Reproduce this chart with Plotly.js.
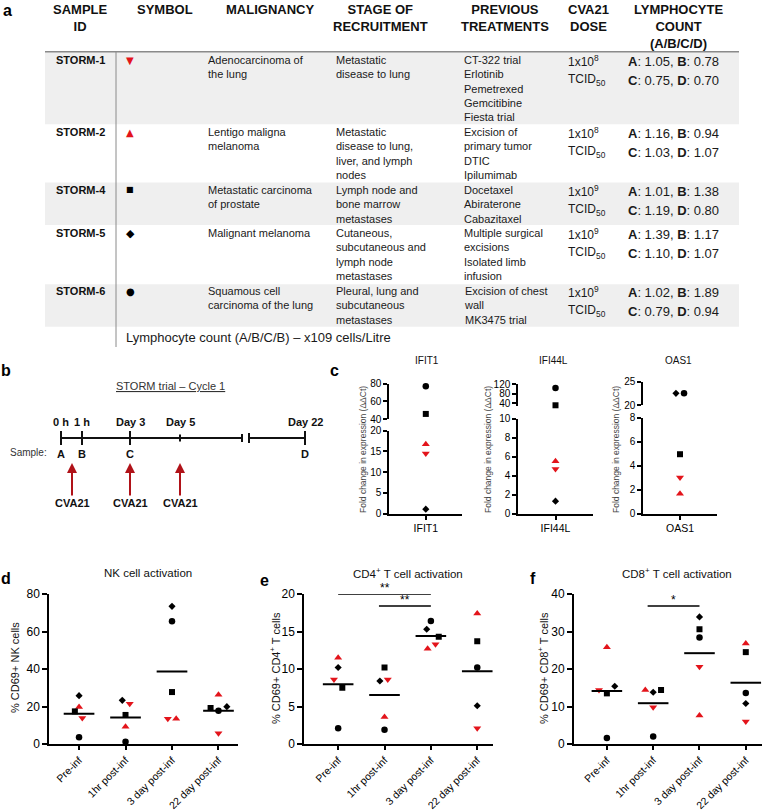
<!DOCTYPE html>
<html><head><meta charset="utf-8">
<script src="https://cdn.plot.ly/plotly-3.0.1.min.js"></script>
<style>html,body{margin:0;padding:0;background:#fff}#chart{width:778px;height:810px}</style>
</head><body><div id="chart"></div>
<script>
// ================= DATA =================
const patients = ['STORM-1','STORM-2','STORM-4','STORM-5','STORM-6'];
const tableHeaders = ['SAMPLE<br>ID','SYMBOL','MALIGNANCY','STAGE OF<br>RECRUITMENT','PREVIOUS<br>TREATMENTS','CVA21<br>DOSE','LYMPHOCYTE<br>COUNT<br>(A/B/C/D)'];
const malignancy = ['Adenocarcinoma of<br>the lung','Lentigo maligna<br>melanoma','Metastatic carcinoma<br>of prostate','Malignant melanoma','Squamous cell<br>carcinoma of the lung'];
const stageOfRecruitment = ['Metastatic<br>disease to lung','Metastatic<br>disease to lung,<br>liver, and lymph<br>nodes','Lymph node and<br>bone marrow<br>metastases','Cutaneous,<br>subcutaneous and<br>lymph node<br>metastases','Pleural, lung and<br>subcutaneous<br>metastases'];
const previousTreatments = ['CT-322 trial<br>Erlotinib<br>Pemetrexed<br>Gemcitibine<br>Fiesta trial','Excision of<br>primary tumor<br>DTIC<br>Ipilumimab','Docetaxel<br>Abiraterone<br>Cabazitaxel','Multiple surgical<br>excisions<br>Isolated limb<br>infusion','Excision of chest<br>wall<br>MK3475 trial'];
const doseExponent = [8, 8, 9, 9, 9];
const lymphA = [1.05, 1.16, 1.01, 1.39, 1.02];
const lymphB = [0.78, 0.94, 1.38, 1.17, 1.89];
const lymphC = [0.75, 1.03, 1.19, 1.10, 0.79];
const lymphD = [0.70, 1.07, 0.80, 1.07, 0.94];
const tableFootnote = 'Lymphocyte count (A/B/C/B) \u2013 x109 cells/Litre';

const timelineTitle = 'STORM trial \u2013 Cycle 1';
const timelineLabels = ['0 h', '1 h', 'Day 3', 'Day 5', 'Day 22'];
const sampleLabels = ['A', 'B', 'C', '', 'D'];
const doseLabel = 'CVA21';

const genes = ['IFIT1', 'IFI44L', 'OAS1'];
// fold change per patient (rows) and gene (columns)
const foldChange = [
  [14.5, 4.7, 3.0],
  [16.7, 5.5, 1.65],
  [46, 31, 4.95],
  [1.05, 1.3, 22.5],
  [77, 103, 22.5]
];

const timepoints = ['Pre-inf', '1hr post-inf', '3 day post-inf', '22 day post-inf'];
const nkValues = [
  [13.9, 21.5, 13.5, 5.7],
  [19.7, 9.2, 13.5, 26.3],
  [17.4, 15.5, 27.7, 19.2],
  [25.8, 23.3, 73.4, 19.9],
  [3.6, 1.2, 65.4, 17.8]
];
const cd4Values = [
  [8.6, 8.6, 13.3, 2.1],
  [11.5, 3.6, 12.7, 17.4],
  [7.5, 10.2, 14.3, 13.7],
  [10.2, 8.4, 15.3, 5.1],
  [2.1, 1.9, 16.4, 10.2]
];
const cd8Values = [
  [14.4, 9.8, 20.6, 6.0],
  [25.8, 14.4, 7.6, 26.8],
  [13.5, 14.4, 30.6, 24.5],
  [15.4, 13.8, 33.9, 10.8],
  [1.6, 2.0, 28.4, 13.6]
];
const sigCD4 = [{a: 0, b: 2, label: '**'}, {a: 1, b: 2, label: '**'}];
const sigCD8 = [{a: 1, b: 2, label: '*'}];

// ================= STYLE / LAYOUT =================
const W = 778, H = 810;
const X = v => v / W;
const Y = v => 1 - v / H;
const RED = '#e3141b';
const FONT = 'Liberation Sans, Arial, Helvetica, sans-serif';
const markerStyles = [
  {symbol: 'triangle-down', color: RED, size: 7},
  {symbol: 'triangle-up', color: RED, size: 7},
  {symbol: 'square', color: '#000', size: 6},
  {symbol: 'diamond', color: '#000', size: 5.5},
  {symbol: 'circle', color: '#000', size: 6.5}
];
const glyphs = ['\u25BC', '\u25B2', '\u25A0', '\u25C6', '\u25CF'];
const glyphSize = [10, 10, 8, 11, 10];
// horizontal dodge of overlapping points (category units)
const dodgeNK = [[0.07, 0.09, -0.09, 0], [0, 0, 0.09, 0], [-0.09, 0, 0, -0.17], [0, -0.07, 0, 0.18], [0, 0, 0, 0]];
const dodgeCD4 = [[-0.09, 0.07, 0.1, 0], [0, 0, -0.07, 0], [0.09, 0, 0.17, 0], [0, -0.1, -0.09, 0], [0, 0, 0, 0]];
const dodgeCD8 = [[-0.17, 0, 0, 0], [0, -0.17, 0, 0], [0, 0.17, 0, 0], [0.17, 0, 0, 0], [0, 0, 0, 0]];
const dodgeGene = [[0, 0, 0], [0, 0, 0], [0, 0, 0], [0, 0, -0.11], [0, 0, 0.11]];

const traces = [];
const annotations = [];
const shapes = [];

function ann(x, y, text, o) {
  return Object.assign({xref: 'paper', yref: 'paper', x: X(x), y: Y(y), text: text, showarrow: false,
    xanchor: 'center', yanchor: 'middle', font: {size: 11, color: '#000', family: FONT}}, o || {});
}
function pline(x0, y0, x1, y1, color, width) {
  return {type: 'line', xref: 'paper', yref: 'paper', x0: X(x0), y0: Y(y0), x1: X(x1), y1: Y(y1),
    line: {color: color || '#000', width: width || 2}};
}
function prect(x0, y0, x1, y1, fill) {
  return {type: 'rect', xref: 'paper', yref: 'paper', x0: X(x0), y0: Y(y0), x1: X(x1), y1: Y(y1),
    fillcolor: fill, line: {width: 0}, layer: 'below'};
}

// ---------- panel a: table ----------
const headerX = [80, 165, 270, 380, 505, 588, 678];
tableHeaders.forEach((h, i) => annotations.push(ann(headerX[i], 0, '<b>' + h + '</b>',
  {yanchor: 'top', align: 'center', font: {size: 13, color: '#111', family: FONT}})));
const rowBands = [[51.7, 124.3], null, [182.5, 225], null, [284.3, 326.7]];
rowBands.forEach(b => { if (b) shapes.push(prect(45, b[0], 739, b[1], '#efefef')); });
shapes.push(pline(45, 51.7, 739, 51.7, '#8a8a8a', 1.5));
shapes.push(pline(116, 51.7, 116, 347, '#8a8a8a', 1));
const rowY = [60, 132, 190, 233, 291];
const bodyFont = {size: 11, color: '#1a1a1a', family: FONT};
patients.forEach((p, i) => {
  const y = rowY[i];
  annotations.push(ann(53.5, y, '<b>' + p + '</b>', {xanchor: 'left', font: {size: 11, color: '#111', family: FONT}}));
  annotations.push(ann(130, y, glyphs[i], {font: {size: glyphSize[i], color: markerStyles[i].color, family: 'DejaVu Sans'}}));
  [[206, malignancy[i]], [334, stageOfRecruitment[i]], [462, previousTreatments[i]]].forEach(c =>
    annotations.push(ann(c[0], y - 8, c[1], {xanchor: 'left', yanchor: 'top', align: 'left', font: bodyFont})));
  annotations.push(ann(566, y + 1, '1x10<sup>' + doseExponent[i] + '</sup>', {xanchor: 'left', font: {size: 12, color: '#1a1a1a', family: FONT}}));
  annotations.push(ann(566, y + 20, 'TCID<sub>50</sub>', {xanchor: 'left', font: {size: 12, color: '#1a1a1a', family: FONT}}));
  annotations.push(ann(626, y + 1.7, '<b>A</b>: ' + lymphA[i].toFixed(2) + ', <b>B</b>: ' + lymphB[i].toFixed(2), {xanchor: 'left', font: {size: 13, color: '#1a1a1a', family: FONT}}));
  annotations.push(ann(626, y + 20, '<b>C</b>: ' + lymphC[i].toFixed(2) + ', <b>D</b>: ' + lymphD[i].toFixed(2), {xanchor: 'left', font: {size: 13, color: '#1a1a1a', family: FONT}}));
});
annotations.push(ann(124, 337, tableFootnote, {xanchor: 'left', font: {size: 13, color: '#1a1a1a', family: FONT}}));

// ---------- panel letters ----------
[['a', 7, 10], ['b', 6, 370], ['c', 334, 370], ['d', 6, 578], ['e', 264, 580], ['f', 533, 578]].forEach(l =>
  annotations.push(ann(l[1], l[2], '<b>' + l[0] + '</b>', {font: {size: 16, color: '#000', family: FONT}})));

// ---------- panel b: timeline ----------
const tl = {y: 438, tickX: [61, 82, 130, 180, 305], tall: [true, true, true, false, true],
  seg1: [61, 242], seg2: [249, 305], arrowX: [72, 130, 180]};
shapes.push(pline(tl.seg1[0], tl.y, tl.seg1[1], tl.y, '#111', 2));
shapes.push(pline(tl.seg2[0], tl.y, tl.seg2[1], tl.y, '#111', 2));
shapes.push(pline(tl.seg1[1], tl.y - 4, tl.seg1[1], tl.y + 4, '#111', 2));
shapes.push(pline(tl.seg2[0], tl.y - 5, tl.seg2[0], tl.y + 5, '#111', 2));
tl.tickX.forEach((x, i) => {
  const h = tl.tall[i] ? 7 : 3.5;
  shapes.push(pline(x, tl.y - h, x, tl.y + h, '#111', 2));
  annotations.push(ann(x, 422, '<b>' + timelineLabels[i] + '</b>', {font: {size: 11, color: '#111', family: FONT}}));
  if (sampleLabels[i]) annotations.push(ann(x, 454, '<b>' + sampleLabels[i] + '</b>', {font: {size: 11, color: '#111', family: FONT}}));
});
annotations.push(ann(49, 452, 'Sample:', {xanchor: 'right', font: {size: 10, color: '#333', family: FONT}}));
annotations.push(ann(170, 386, '<u>' + timelineTitle + '</u>', {font: {size: 11, color: '#333', family: FONT}}));
tl.arrowX.forEach(x => annotations.push({xref: 'paper', yref: 'paper', x: X(x), y: Y(463), ax: 0, ay: 40,
  text: '<b>' + doseLabel + '</b>', showarrow: true, arrowhead: 2, arrowsize: 1, arrowwidth: 2,
  arrowcolor: '#b01218', standoff: 0, font: {size: 11, color: '#111', family: FONT}}));

// ---------- panel c: broken-axis gene plots ----------
const layout = {
  width: W, height: H, margin: {l: 0, r: 0, t: 0, b: 0}, paper_bgcolor: '#fff', plot_bgcolor: 'rgba(0,0,0,0)',
  font: {family: FONT, color: '#000'}, showlegend: false, hovermode: false
};
const axBase = {showline: true, linecolor: '#000', linewidth: 2, ticks: 'outside', tickwidth: 2, ticklen: 5,
  tickcolor: '#000', showgrid: false, zeroline: false, fixedrange: true, tickfont: {size: 12, color: '#000', family: FONT}};

const geneAxes = [
  {x: 4, yl: 4, yu: 5, xd: [389.3, 462.3], lower: [0, 20], lowerTicks: [0, 5, 10, 15, 20], upper: [40, 80], upperTicks: [40, 60, 80], yl_px: [513.5, 430.7], yu_px: [419.3, 383.5], title: 427, ytitle: 363},
  {x: 5, yl: 6, yu: 7, xd: [518.3, 592.7], lower: [0, 10], lowerTicks: [0, 2, 4, 6, 8, 10], upper: [28, 120], upperTicks: [40, 80, 120], yl_px: [513.5, 418.7], yu_px: [406, 384], title: 553, ytitle: 488},
  {x: 6, yl: 8, yu: 9, xd: [643.3, 716.7], lower: [0, 8], lowerTicks: [0, 2, 4, 6, 8], upper: [20, 25], upperTicks: [20, 25], yl_px: [513.5, 417.7], yu_px: [405, 381.7], title: 678, ytitle: 616}
];
const cTick = Object.assign({}, axBase, {ticklen: 4, tickfont: {size: 10, color: '#000', family: FONT}});
genes.forEach((g, gi) => {
  const a = geneAxes[gi];
  layout['xaxis' + a.x] = Object.assign({}, cTick, {domain: [X(a.xd[0]), X(a.xd[1])], anchor: 'y' + a.yl, range: [-1, 1],
    tickvals: [0], ticktext: [g], tickfont: {size: 10.5, color: '#000', family: FONT}});
  layout['yaxis' + a.yl] = Object.assign({}, cTick, {domain: [Y(a.yl_px[0]), Y(a.yl_px[1])], anchor: 'x' + a.x, range: a.lower, tickvals: a.lowerTicks});
  layout['yaxis' + a.yu] = Object.assign({}, cTick, {domain: [Y(a.yu_px[0]), Y(a.yu_px[1])], anchor: 'x' + a.x, range: a.upper, tickvals: a.upperTicks});
  annotations.push(ann(a.title, 360, g, {font: {size: 10, color: '#111', family: FONT}}));
  annotations.push(ann(a.ytitle, 450, 'Fold change in expression (\u0394\u0394Ct)', {textangle: -90, font: {size: 8.5, color: '#444', family: FONT}}));
  foldChange.forEach((row, p) => {
    const v = row[gi];
    const up = v > a.lower[1];
    traces.push({type: 'scatter', mode: 'markers', x: [dodgeGene[p][gi]], y: [v],
      xaxis: 'x' + a.x, yaxis: 'y' + (up ? a.yu : a.yl), marker: markerStyles[p], cliponaxis: false, hoverinfo: 'skip'});
  });
});

// ---------- panels d, e, f ----------
const dotPanels = [
  {vals: nkValues, dodge: dodgeNK, n: '', xd: [49.3, 238], range: [-0.64, 3.42], yr: [0, 80], dtick: 20,
   title: 'NK cell activation', tx: 148, ytitle: '% CD69+ NK cells', ytx: 15},
  {vals: cd4Values, dodge: dodgeCD4, n: '2', xd: [304.3, 493], range: [-0.73, 3.34], yr: [0, 20], dtick: 5,
   title: 'CD4<sup>+</sup> T cell activation', tx: 408, ytitle: '% CD69+ CD4<sup>+</sup> T cells', ytx: 275,
   sig: sigCD4, sigY: [20.0, 18.4]},
  {vals: cd8Values, dodge: dodgeCD8, n: '3', xd: [574, 762], range: [-0.71, 3.35], yr: [0, 40], dtick: 10,
   title: 'CD8<sup>+</sup> T cell activation', tx: 677, ytitle: '% CD69+ CD8<sup>+</sup> T cells', ytx: 543,
   sig: sigCD8, sigY: [36.8]}
];
dotPanels.forEach(P => {
  const xa = 'x' + P.n, ya = 'y' + P.n;
  layout['xaxis' + P.n] = Object.assign({}, axBase, {domain: [X(P.xd[0]), X(P.xd[1])], anchor: ya, range: P.range,
    tickvals: timepoints.map((_, i) => i), ticktext: timepoints, tickangle: -45, ticklen: 4,
    tickfont: {size: 10.5, color: '#000', family: FONT}});
  layout['yaxis' + P.n] = Object.assign({}, axBase, {domain: [Y(744), Y(594)], anchor: xa, range: P.yr, dtick: P.dtick, tick0: 0});
  P.vals.forEach((row, p) => traces.push({type: 'scatter', mode: 'markers', x: row.map((v, i) => i + P.dodge[p][i]), y: row,
    xaxis: xa, yaxis: ya, marker: markerStyles[p], cliponaxis: false, hoverinfo: 'skip'}));
  const lx = [], ly = [];
  timepoints.forEach((_, i) => {
    const m = P.vals.reduce((s, r) => s + r[i], 0) / P.vals.length;
    lx.push(i - 0.33, i + 0.33, null); ly.push(m, m, null);
  });
  traces.push({type: 'scatter', mode: 'lines', x: lx, y: ly, xaxis: xa, yaxis: ya, line: {color: '#000', width: 2}, hoverinfo: 'skip', cliponaxis: false});
  annotations.push(ann(P.tx, 573, P.title, {font: {size: 11.5, color: '#111', family: FONT}}));
  annotations.push(ann(P.ytx, 668, P.ytitle, {textangle: -90, font: {size: 11, color: '#111', family: FONT}}));
  (P.sig || []).forEach((s, k) => {
    const x0 = s.a > 0 ? s.a - 0.12 : s.a;
    shapes.push({type: 'line', xref: xa, yref: ya, x0: x0, x1: s.b, y0: P.sigY[k], y1: P.sigY[k], line: {color: '#000', width: 1.5}});
    annotations.push({xref: xa, yref: ya, x: (x0 + s.b) / 2, y: P.sigY[k], text: s.label, showarrow: false,
      yanchor: 'bottom', yshift: -3, font: {size: 12, color: '#000', family: FONT}});
  });
});

layout.annotations = annotations;
layout.shapes = shapes;
Plotly.newPlot('chart', traces, layout, {displayModeBar: false, staticPlot: true});
</script>
</body></html>
